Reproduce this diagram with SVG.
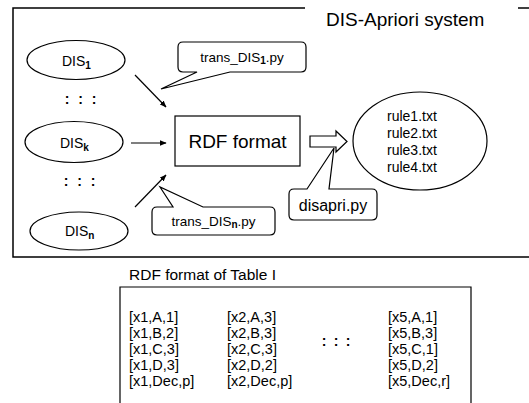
<svg xmlns="http://www.w3.org/2000/svg" width="529" height="403" viewBox="0 0 529 403">
  <style>
    text { font-family: "Liberation Sans", Arial, sans-serif; fill: #000; }
    .shape { fill: #fff; stroke: #000; stroke-width: 1.2; }
    .frame { fill: none; stroke: #000; stroke-width: 1.5; }
    .edge { fill: none; stroke: #000; stroke-width: 1.2; }
    .dis { font-size: 14px; }
    .sub { font-size: 10px; font-weight: bold; }
    .call { font-size: 13.5px; }
    .rule { font-size: 14px; }
    .row { font-size: 14.5px; }
    .dots { font-size: 14px; font-weight: bold; text-anchor: middle; }
  </style>
  <defs>
    <marker id="arrow" viewBox="0 0 10 10" refX="9" refY="5" markerWidth="7" markerHeight="7" orient="auto" markerUnits="userSpaceOnUse">
      <path d="M0,1 L10,5 L0,9 z" fill="#000"/>
    </marker>
  </defs>

  <rect width="529" height="403" fill="#fff"/>

  <!-- system frame (open on the right) -->
  <g id="system-frame">
    <path class="frame" d="M305,8 H13 V257 H529"/>
    <line class="frame" x1="518" y1="8" x2="529" y2="8"/>
    <text x="326" y="26" font-size="19">DIS-Apriori system</text>
  </g>

  <!-- source data sets -->
  <g id="dis1">
    <ellipse class="shape" cx="76" cy="60" rx="49" ry="19.5"/>
    <text class="dis" x="62" y="66">DIS<tspan class="sub" dy="3">1</tspan></text>
  </g>
  <g id="dots-upper">
    <text class="dots" x="67" y="104">:</text>
    <text class="dots" x="80.5" y="104">:</text>
    <text class="dots" x="94" y="104">:</text>
  </g>
  <g id="disk">
    <ellipse class="shape" cx="74" cy="142" rx="49" ry="20.5"/>
    <text class="dis" x="60" y="148">DIS<tspan class="sub" dy="3">k</tspan></text>
  </g>
  <g id="dots-lower">
    <text class="dots" x="66" y="186">:</text>
    <text class="dots" x="79.5" y="186">:</text>
    <text class="dots" x="93" y="186">:</text>
  </g>
  <g id="disn">
    <ellipse class="shape" cx="79" cy="231" rx="49" ry="19"/>
    <text class="dis" x="65" y="236">DIS<tspan class="sub" dy="3">n</tspan></text>
  </g>

  <!-- central RDF store -->
  <g id="rdf-format">
    <rect class="shape" x="175" y="116" width="125" height="50"/>
    <text x="237.5" y="148" font-size="19" text-anchor="middle">RDF format</text>
  </g>

  <!-- mined rule files -->
  <g id="rules">
    <ellipse class="shape" cx="420" cy="141" rx="67" ry="49"/>
    <text class="rule" x="387" y="121">rule1.txt</text>
    <text class="rule" x="387" y="138">rule2.txt</text>
    <text class="rule" x="387" y="155">rule3.txt</text>
    <text class="rule" x="387" y="172">rule4.txt</text>
  </g>

  <!-- callouts naming the scripts -->
  <g id="callout-trans-dis1">
    <path class="shape" d="M183,42 H301 Q306,42 306,47 V67 Q306,72 301,72 H230 L161,89 L197,72 H183 Q178,72 178,67 V47 Q178,42 183,42 Z"/>
    <text class="call" x="242" y="62" text-anchor="middle">trans_DIS<tspan class="sub" dy="2">1</tspan><tspan dy="-2">.py</tspan></text>
  </g>
  <g id="callout-trans-disn">
    <path class="shape" d="M157,207 H173 L160,187 L203,207 H270 Q275,207 275,212 V230 Q275,235 270,235 H157 Q152,235 152,230 V212 Q152,207 157,207 Z"/>
    <text class="call" x="213.5" y="226" text-anchor="middle">trans_DIS<tspan class="sub" dy="2">n</tspan><tspan dy="-2">.py</tspan></text>
  </g>
  <g id="callout-disapri">
    <path class="shape" d="M294,189 H307 L334,148 L329,189 H372 Q377,189 377,194 V215 Q377,220 372,220 H294 Q289,220 289,215 V194 Q289,189 294,189 Z"/>
    <text x="333" y="211" font-size="16" text-anchor="middle">disapri.py</text>
  </g>

  <!-- connectors -->
  <g id="connectors">
    <line class="edge" x1="135" y1="75" x2="166" y2="107" marker-end="url(#arrow)"/>
    <line class="edge" x1="131" y1="143" x2="166" y2="143" marker-end="url(#arrow)"/>
    <line class="edge" x1="135" y1="207" x2="166" y2="175" marker-end="url(#arrow)"/>
    <path class="shape" d="M310,136 H336 V131 L347,141.5 L336,152 V147 H310 Z"/>
  </g>

  <!-- RDF listing -->
  <g id="rdf-table">
    <text x="129" y="280" font-size="15.5">RDF format of Table I</text>
    <path class="edge" d="M120,403 V287 H471 V403"/>
    <g class="row">
      <text x="129" y="322">[x1,A,1]</text>
      <text x="129" y="338">[x1,B,2]</text>
      <text x="129" y="354">[x1,C,3]</text>
      <text x="129" y="370">[x1,D,3]</text>
      <text x="129" y="386">[x1,Dec,p]</text>
      <text x="227" y="322">[x2,A,3]</text>
      <text x="227" y="338">[x2,B,3]</text>
      <text x="227" y="354">[x2,C,3]</text>
      <text x="227" y="370">[x2,D,2]</text>
      <text x="227" y="386">[x2,Dec,p]</text>
      <text x="388" y="322">[x5,A,1]</text>
      <text x="388" y="338">[x5,B,3]</text>
      <text x="388" y="354">[x5,C,1]</text>
      <text x="388" y="370">[x5,D,2]</text>
      <text x="388" y="386">[x5,Dec,r]</text>
    </g>
    <text class="dots" x="324" y="346">:</text>
    <text class="dots" x="336" y="346">:</text>
    <text class="dots" x="348" y="346">:</text>
  </g>
</svg>
